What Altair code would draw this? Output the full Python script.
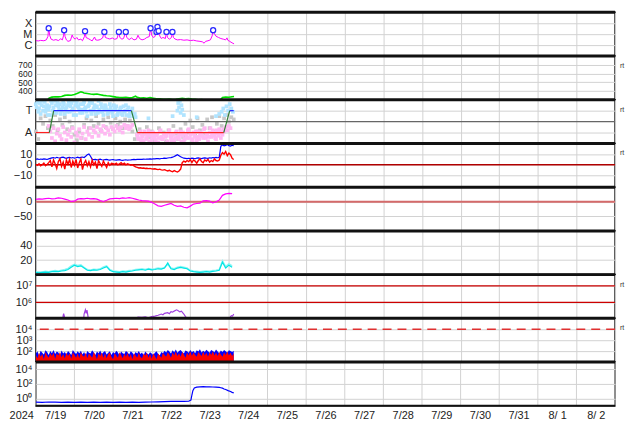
import json
import altair as alt
import pandas as pd

W, H = 583, 44
DAY_TICKS = list(range(0, 361, 24))
LABEL_TICKS = list(range(12, 360, 24))
DATE_LABELS = ["7/19", "7/20", "7/21", "7/22", "7/23", "7/24", "7/25", "7/26",
               "7/27", "7/28", "7/29", "7/30", "7/31", "8/ 1", "8/ 2"]
YEAR = "2024"
SIDE_TEXT = "rt"

# ---- panel 1 : X-ray flux (hours since 7/19 00:00) ----
XRAY_H = [0, 1.5, 3, 5, 6.5, 7.5, 8.0, 8.6, 9.5, 11, 12.5, 14, 15.5, 16.5, 17.2, 17.6, 18.2, 19, 20, 21.5,
          22.6, 23.2, 24.5, 25.5, 26.5, 28, 29, 30.2, 30.6, 31.2, 32.5, 34, 35, 36.5, 37.2, 38.5, 40, 41.5,
          42.6, 43.2, 44.5, 46, 47.5, 49, 50.5, 51.6, 52.2, 53.5, 54.5, 55.9, 56.5, 58, 59.5, 61, 62.5,
          63.5, 64.5, 66, 67.5, 69, 70.5, 71.3, 72, 73, 74, 75.0, 75.6, 76.3, 77, 78, 79, 80.5, 81.2, 81.8,
          83, 84.3, 84.9, 85.5, 86.5, 88, 90, 92, 94, 96, 98, 100, 102, 103.5, 104.6, 105.5, 107, 108.5,
          109.6, 110.2, 111, 112, 113.5, 115, 116.5, 118, 118.8, 119.3, 120.5, 122, 123.2]
XRAY_F = [2.6e-6, 2.4e-6, 2.7e-6, 2.5e-6, 3.0e-6, 6e-6, 3.5e-5, 8e-6, 3.5e-6, 2.8e-6, 3.2e-6, 2.6e-6, 3.8e-6,
          3e-6, 7e-6, 2.3e-5, 6e-6, 3e-6, 2.2e-6, 2.6e-6, 8.5e-6, 5e-6, 3.5e-6, 5e-6, 3e-6, 3.5e-6, 2.5e-6,
          6e-6, 1.9e-5, 5e-6, 4e-6, 3e-6, 2.4e-6, 5.5e-6, 3e-6, 2.8e-6, 3.2e-6, 4.5e-6, 1.6e-5, 5e-6,
          4.2e-6, 3.6e-6, 4.5e-6, 3.4e-6, 4e-6, 1.6e-5, 5e-6, 3.5e-6, 4e-6, 1.6e-5, 5e-6, 3.2e-6, 4.5e-6,
          3e-6, 3.5e-6, 8e-6, 4e-6, 3e-6, 3.5e-6, 5e-6, 6e-6, 3.5e-5, 8e-6, 5e-6, 6e-6, 1.6e-5, 4.7e-5,
          2.0e-5, 7e-6, 4e-6, 5e-6, 4e-6, 1.6e-5, 5e-6, 3.5e-6, 5e-6, 1.6e-5, 5e-6, 3.6e-6, 3e-6, 3.2e-6,
          2.8e-6, 3e-6, 2.6e-6, 2.8e-6, 2.4e-6, 2.2e-6, 2.0e-6, 1.5e-6, 2.2e-6, 2.5e-6, 3e-6, 7e-6, 2.3e-5,
          1.1e-5, 6.5e-6, 5e-6, 4e-6, 3.5e-6, 3e-6, 4.6e-6, 2.8e-6, 2.2e-6, 1.6e-6, 1.3e-6]
FLARE_H = [8.0, 17.6, 30.6, 42.6, 51.6, 55.9, 71.3, 75.0, 75.6, 76.3, 81.2, 84.9, 110.2]
FLARE_F = [3.5e-5, 2.3e-5, 1.9e-5, 1.6e-5, 1.6e-5, 1.6e-5, 3.5e-5, 1.6e-5, 4.7e-5, 2.0e-5, 1.6e-5, 1.6e-5, 2.3e-5]
XRAY_TICKS = [1e-4, 1e-5, 1e-6]
XRAY_LABELS = ["X", "M", "C"]

# ---- panel 2 : solar wind speed ----
SW_H = [7.5, 8.2, 10, 12, 14, 16, 18, 20, 22, 24, 26, 28, 29, 30, 32, 34, 36, 38, 40, 42, 44, 46, 48, 50,
        52, 54, 56, 58, 60, 62, 63, 65, 67, 69, 71, 73, 75, 77, 79, 81, 83, 85, 87, 89, 91, 93, 95, 97, 99,
        101, 103, 105, 107, 109, 111, 113, 115, 116, 118, 120, 122, 123.2]
SW_V = [300, 318, 330, 335, 333, 338, 350, 355, 352, 360, 375, 390, 385, 378, 372, 366, 362, 365, 358, 350,
        345, 342, 336, 330, 326, 324, 328, 322, 326, 340, 328, 320, 322, 318, 326, 318, 310, 312, 306, 304,
        308, 302, 305, 312, 316, 311, 313, 308, 304, 300, 302, 298, 300, 296, 298, 300, 302, 325, 332, 328,
        335, 338]
SW_TICKS = [400, 500, 600, 700]

# ---- panel 3 : IMF sector ----
SEC_H = [0, 8.4, 11.1, 59.4, 63.1, 116.8, 120.5, 123]
SEC_V = [-1, -1, 1, 1, -1, -1, 1, 1]
TOWARD_V1 = [1.6, 1.8, 1.2, 0.7, 1.9, 1.4, 0.9, 1.5, 1.1, 0.6, 1.7, 1.3, 1.9, 0.8, 1.4, 1.6, 1.0, 1.8, 0.7,
             1.3, 1.5, 0.9, 1.7, 1.2, 1.9, 0.6, 1.4, 1.1, 1.6, 0.8, 1.8, 1.3, 0.5, 1.5, 1.0, 1.7, 1.2, 0.7,
             1.4, 1.9, 0.9, 1.3, 0.6, 1.5, 1.1, 0.8, 1.6, 1.0, 0.5, 1.2, 1.4, 0.7, 1.0, 1.3, 0.6, 0.9, 1.5,
             1.1, 0.5, 0.8, 1.2, 0.6, 0.4]
TOWARD_V2 = [1.3, 0.9, 1.7, 1.5, 1.0, 1.8, 1.2, 0.6, 1.4, 1.9, 1.0, 0.8, 1.5, 1.7, 1.1, 0.7, 1.3, 1.6, 1.2,
             0.9, 1.8, 1.4, 1.0, 0.6, 1.5, 1.7, 1.3, 0.8, 1.1, 1.6, 1.2, 0.9, 1.4, 1.8, 0.7, 1.0, 1.5, 1.3,
             0.8, 1.1, 1.6, 0.9, 1.2, 1.4, 0.7, 1.0, 1.3, 0.8, 1.5, 1.1, 0.6, 0.9, 1.2, 0.7, 1.4, 1.0, 0.6,
             1.3, 0.8, 1.0, 0.5, 0.7]
TOWARD_LATE_H = [70, 85, 88, 88.5, 89, 89.5, 90, 90.5, 91, 92, 100, 112, 114, 115.5, 116.5, 117.5, 118.5,
                 119.5, 120.5, 121.5, 122.5]
TOWARD_LATE_V = [0.3, 0.5, 1.0, 1.7, 1.3, 1.9, 0.8, 1.5, 1.1, 0.6, 0.4, 0.5, 0.7, 0.9, 1.2, 0.6, 1.4, 1.0,
                 1.6, 1.2, 0.9]
AWAY_V1 = [-0.4, -0.9, -1.5, -0.6, -1.8, -1.1, -0.7, -1.3, -1.6, -0.5, -1.0, -1.7, -1.2, -0.8, -1.4, -0.6,
           -1.9, -1.0, -1.3, -0.7, -1.5, -1.1, -0.5, -1.6, -0.9, -1.2, -0.6, -1.4, -0.8, -1.0, -0.5, -1.3,
           -0.7, -0.9, -0.4, -1.1, -0.6, -0.8, -1.2, -0.5, -0.7, -0.9, -0.4, -0.6, -0.8, -0.5, -1.0, -0.3,
           -0.6, -0.4, -0.7, -0.5, -0.3]
AWAY_V2 = [-1.2, -1.6, -0.9, -1.4, -1.8, -1.1, -1.5, -0.8, -1.3, -1.7, -1.0, -1.5, -1.2, -1.9, -0.9, -1.4,
           -1.6, -1.1, -1.3, -1.8, -0.8, -1.5, -1.2, -1.7, -1.0, -1.4, -1.6, -0.9, -1.3, -1.8, -1.1, -1.5,
           -0.7, -1.2, -1.6, -1.0, -1.4, -1.7, -0.9, -1.3, -1.1, -1.5, -0.6, -1.2, -1.8, -1.0, -1.4, -0.8,
           -1.3, -1.6, -1.1, -0.7, -1.5, -1.2, -0.9]
AWAY_V3 = [-1.5, -1.1, -1.7, -1.3, -0.9, -1.6, -1.2, -1.8, -1.0, -1.4, -1.3, -1.7, -1.1, -1.5, -0.8, -1.6,
           -1.2, -1.4, -1.9, -1.0, -1.3, -1.7, -1.1, -1.5, -0.9, -1.4, -1.2, -1.8, -1.0, -1.6, -1.3, -0.8,
           -1.5, -1.1, -1.7, -1.2, -0.9, -1.4, -1.6, -1.0, -1.3, -0.7, -1.5, -1.1, -1.4, -0.6, -1.2, -1.0,
           -1.5, -0.8, -1.3, -0.9, -1.1, -0.7]
AWAY_LATE_H = [118, 119, 120, 121]
AWAY_LATE_V = [-0.5, -0.8, -0.4, -0.6]
GRAY_V = [-0.9, -1.6, 0.3, -0.2, 0.5, -0.6, 0.1, -0.4, 0.6, -0.8, 0.2, -0.3, 0.4, -0.7, 0.0, -0.5, -1.2,
          -1.7, -0.9, -1.5, -0.3, 0.3, -0.6, 0.1, -0.4, 0.5, -0.2, -0.8, 0.2, -0.5, 0.4, -0.1, -0.7, 0.3,
          -0.3, 0.0, -0.6, 0.2, -0.4, 0.1, -0.9, -1.6, -1.2, -0.7, -1.8, -1.1, -0.5, -1.4, -0.9, -1.7, -1.2,
          -0.6, -1.5, -1.0, -1.8, -0.8, -1.3, -0.4, -1.1, -1.6, -0.7, -1.4, -0.2, -1.0, 0.1, -0.5, -1.3, 0.3,
          -0.8, -0.3, -1.1, 0.2, -0.6, 0.4, -0.9, -0.2, 0.5, -0.4, 0.3, 0.6, 0.0, 0.4, 0.2]
SEC_TICKS = [1, -1]
SEC_LABELS = ["T", "A"]

# ---- panel 4 : IMF Bt / Bz (hourly) ----
BT = [5.2, 5.5, 5.0, 5.4, 5.1, 5.6, 5.3, 5.0, 5.5,
      6.0, 6.5, 6.8, 6.2, 7.0, 6.6, 6.3, 6.9, 7.2, 6.5, 6.1, 6.7, 7.0, 6.4, 6.8, 6.2, 6.6, 7.1, 6.5, 6.9, 7.3, 6.8,
      8.0, 9.5, 10.2, 8.0,
      5.2, 4.8, 5.0, 4.6, 4.9, 5.3, 4.7, 4.5, 4.8, 5.1, 4.6, 4.4, 4.7, 4.9, 4.5, 4.3, 4.6, 4.8, 4.4, 4.2, 4.5,
      4.7, 4.3, 4.5,
      4.6, 4.8, 5.0, 4.9, 5.1, 5.0, 5.2, 5.1, 5.3, 5.2, 5.4, 5.3, 5.5, 5.4, 5.6, 5.5, 5.7, 5.8, 5.6, 5.9, 6.0,
      6.2, 6.1, 6.4, 6.6, 6.8, 7.2, 7.8, 8.6, 9.4,
      8.5, 7.5, 6.8, 6.2, 6.0, 5.8, 6.1, 5.9, 6.3, 6.0, 5.7, 6.2, 6.4, 6.1, 5.8, 6.3, 6.5, 6.2, 6.0, 6.6, 6.3,
      6.8, 6.5, 7.0, 6.6, 6.9,
      17.5, 18.5, 17.8, 18.2, 19.0, 18.0, 17.6, 18.3, 17.9]
BZ = [0.5, -0.5, 1.0, -1.0, 0.0, 1.5, -0.8, 0.3, 2.0,
      4.0, -2.0, 4.5, 1.0, -3.5, 3.0, 5.5, -1.5, 2.5, -4.0, 4.5, 0.5, 5.0, -2.5, 3.5, -0.5, 5.0, -3.0, 2.0, 5.5,
      -4.5, 1.5, 4.0, -1.0, 3.0, -2.0, 4.5, 0.0, 2.5, -3.5, 4.0, 1.0, -1.5, 3.5, 0.5, -2.5, 2.0, -0.5, 1.5,
      1.0, 0.5, 1.5, 0.0, 1.0, 2.0, 0.5, 1.5, 0.0, 1.0, 0.5, -0.5, 0.0, -1.0, -2.0,
      -2.5, -3.0, -2.8, -3.2, -3.0, -3.5, -3.3, -3.6, -3.4, -3.8, -4.0, -3.7, -4.2, -4.5, -4.1, -4.8, -5.0,
      -4.6, -5.3, -5.8, -5.2, -6.0, -6.5, -5.5, -6.2, -6.8, -5.8,
      -4.0, 2.0, 3.5, 2.5, 4.0, 3.0, 5.0, 2.0, 4.5, 3.5, 1.5, 4.0, 5.5, 3.0, 2.0, 4.5, 3.5, 5.0, 2.5, 4.0, 3.0,
      5.5, 4.0, 3.5, 4.5,
      9.0, 11.5, 10.0, 12.5, 8.5, 11.0, 9.5, 6.0, 5.0]
IMF_TICKS = [10, 0, -10]

# ---- panel 5 : Dst (every 2 h) ----
DST = [8, 10, 9, 11, 12, 10, 11, 13, 12, 9, 6, 1, 2, 9, 11, 10, 12, 10, 11, 9, 4, 1, 5, 10, 11, 12, 11, 13,
       12, 14, 12, 9, 6, 4, 3, 2, -2, -8, -14, -16, -12, -9, -6, -12, -16, -14, -19, -21, -15, -8, -6, -5,
       3, 4, 2, -4, 0, 6, 22, 27, 29, 28]
DST_TICKS = [0, -50]

# ---- panel 6 : density (every 2 h) ----
DEN_A = [3, 2.5, 3, 3.5, 3, 4, 4.5, 4, 5, 5.5, 7, 10, 13, 11, 12, 9, 6, 5.5, 6.5, 6, 7, 9, 11, 6, 4, 3.5, 3,
         4, 3.5, 4.5, 5, 6, 6.5, 7, 6, 7.5, 6.5, 7, 8, 7.5, 9, 16, 8, 7, 9, 10, 9, 8, 5, 4, 3.5, 3, 3.5, 4,
         3.5, 4.5, 5, 6, 17, 9, 13, 10]
DEN_B = [4, 3.5, 3.5, 4.5, 4, 5, 5.5, 5, 6, 7, 8.5, 12, 14, 12.5, 13.5, 10, 7, 6.5, 7.5, 7, 8, 10.5, 12, 7, 5,
         4.5, 4, 5, 4.5, 5.5, 6, 7, 7.5, 8, 7, 8.5, 7.5, 8, 9, 8.5, 10, 14, 9, 8, 10, 11, 10, 9, 6, 5, 4.5, 4,
         4.5, 5, 4.5, 5.5, 6, 7, 19, 11, 15, 12]
DEN_TICKS = [40, 20]

# ---- panel 7 : proton flux ----
PRO_H = [0, 16.5, 17.0, 17.3, 17.7, 18.2, 29.5, 30.0, 30.8, 31.3, 31.8, 32.4, 33, 63.0, 63.5, 66, 68, 70, 72,
         74, 76, 78, 79, 80, 82, 83, 84, 85, 86, 87.5, 88.5, 89.5, 90.5, 92, 93, 94.5, 95, 120, 120.8, 121.5,
         122.3, 123]
PRO_V = [5e4, 5e4, 1.6e5, 2.1e5, 1.5e5, 5e4, 5e4, 2.0e5, 3.6e5, 2.2e5, 3.4e5, 1.5e5, 5e4, 5e4, 1.3e5, 1.25e5,
         1.35e5, 1.2e5, 1.4e5, 1.5e5, 1.7e5, 2.0e5, 1.8e5, 2.2e5, 2.4e5, 2.1e5, 2.8e5, 2.6e5, 3.0e5, 3.6e5,
         3.2e5, 2.7e5, 3.0e5, 2.0e5, 1.4e5, 1.0e5, 5e4, 5e4, 1.3e5, 1.6e5, 1.5e5, 2.0e5]
PRO_TICKS = [1e7, 1e6]
PRO_LABELS = ["10\u2077", "10\u2076"]
PRO_LIMITS = [1e7, 1e6]

# ---- panel 8 : electron counts (hourly) ----
EL_BLUE = [60, 95, 40, 110, 70, 50, 120, 85, 45, 100, 65, 130, 55, 90, 75, 40, 115, 60, 85, 50, 105, 70, 45,
           125, 80, 55, 95, 65, 110, 50, 85, 40, 100, 70, 60, 120, 75, 45, 90, 65, 115, 55, 80, 100, 50, 70,
           95, 45, 85, 60, 110, 75, 40, 90, 65, 55, 105, 80, 50, 95, 70, 45, 85, 60, 100, 55, 75, 40, 90, 65,
           50, 80, 60, 45, 70, 95, 55, 40, 85, 65, 110, 75, 130, 90, 60, 120, 80, 140, 70, 100, 125, 85, 60,
           115, 95, 70, 130, 80, 105, 65, 120, 90, 150, 75, 110, 85, 135, 95, 70, 125, 100, 80, 140, 90, 65,
           115, 85, 130, 95, 70, 120, 100, 85, 110]
EL_RED = [45, 22, 70, 30, 55, 18, 80, 40, 25, 65, 35, 75, 20, 60, 40, 85, 28, 55, 22, 70, 35, 60, 20, 75, 45,
          25, 65, 22, 80, 40, 30, 70, 22, 60, 40, 25, 85, 45, 18, 65, 35, 75, 25, 60, 22, 55, 70, 30, 18, 65,
          40, 25, 80, 45, 22, 60, 30, 70, 25, 55, 18, 65, 40, 25, 75, 30, 22, 60, 40, 70, 25, 55, 20, 65, 35,
          18, 60, 40, 25, 70, 45, 30, 80, 50, 25, 75, 40, 90, 35, 65, 30, 85, 50, 25, 70, 40, 95, 35, 75, 45,
          30, 85, 55, 35, 90, 40, 70, 30, 80, 45, 95, 40, 70, 35, 85, 50, 30, 75, 45, 90, 40, 70, 35, 65]
EL_TICKS = [1e4, 1e3, 1e2]
EL_LABELS = ["10\u2074", "10\u00b3", "10\u00b2"]
EL_LIMIT = [1e4]
EL_FLOOR = 10

# ---- panel 9 : high-energy flux ----
P9_H = [0, 4, 8, 12, 16, 20, 24, 28, 32, 36, 40, 44, 48, 52, 56, 60, 64, 68, 72, 76, 80, 84, 88, 92, 95,
        96.4, 97, 97.6, 98.5, 100, 102, 104, 106, 108, 110, 112, 114, 115, 116, 117, 118, 119.5, 121, 122, 123]
P9_V = [0.32, 0.30, 0.33, 0.31, 0.29, 0.32, 0.30, 0.31, 0.30, 0.32, 0.29, 0.31, 0.30, 0.32, 0.30, 0.31, 0.30,
        0.32, 0.33, 0.35, 0.38, 0.40, 0.42, 0.40, 0.42, 0.6, 3, 12, 28, 36, 40, 42, 40, 41, 38, 36, 33, 30,
        26, 20, 17, 12, 9, 7, 6]
P9_TICKS = [1e4, 1e2, 1e0]
P9_LABELS = ["10\u2074", "10\u00b2", "10\u2070"]

FONT = "Liberation Sans"
GRID = "#d2d2d2"


def label_expr(values, labels):
    s = ""
    for v, l in zip(values, labels):
        s += "datum.value == %r ? %s : " % (v, json.dumps(l))
    return s + "''"


def X(bottom=False):
    if bottom:
        ax = alt.Axis(values=LABEL_TICKS, grid=False, ticks=False, domain=False, title=None,
                      labelExpr=json.dumps(DATE_LABELS) + "[floor(datum.value / 24)]",
                      labelAlign="center", labelFlush=False, labelOverlap=False,
                      labelPadding=4, labelFontSize=11)
    else:
        ax = alt.Axis(values=DAY_TICKS, grid=True, ticks=False, domain=False, labels=False, title=None)
    return alt.X("h:Q", scale=alt.Scale(domain=[0, 360], nice=False, zero=False), axis=ax)


def Y(domain, values, labels=None, log=False, fs=11):
    if labels is None:
        labels = [str(v) if v >= 0 else "\u2212" + str(-v) for v in values]
    sc = alt.Scale(type="log", domain=domain, nice=False) if log else alt.Scale(domain=domain, nice=False, zero=False)
    return alt.Y("v:Q", scale=sc,
                 axis=alt.Axis(values=values, labelExpr=label_expr(values, labels), grid=True, ticks=False,
                               domain=False, title=None, labelPadding=4, labelOverlap=False,
                               labelBound=False, labelFlush=False, labelFontSize=fs))


def df(h, v):
    return pd.DataFrame({"h": list(h), "v": list(v)})


def frame(layers, rt=False, bottom=False):
    extra = [alt.Chart().mark_rule(color="#111", strokeWidth=3).encode(
        x=alt.value(0), x2=alt.value(W), y=alt.value(0))]
    if rt:
        extra.append(alt.Chart().mark_text(text=SIDE_TEXT, fontSize=7, color="#333", align="left",
                                           baseline="middle", font=FONT).encode(x=alt.value(W + 5), y=alt.value(10)))
    if bottom:
        extra.append(alt.Chart().mark_rule(color="#111", strokeWidth=2).encode(
            x=alt.value(0), x2=alt.value(W), y=alt.value(H)))
        extra.append(alt.Chart().mark_text(text=YEAR, fontSize=11, color="#222", align="right",
                                           baseline="top", font=FONT).encode(x=alt.value(-2), y=alt.value(H + 4)))
    return alt.layer(*layers, *extra).properties(width=W, height=H)


# panel 1
y1 = Y([1e-7, 1e-3], XRAY_TICKS, XRAY_LABELS, log=True)
p1 = frame([
    alt.Chart(df(XRAY_H, XRAY_F)).mark_line(color="#ff00ff", strokeWidth=1, clip=True).encode(x=X(), y=y1),
    alt.Chart(df(FLARE_H, FLARE_F)).mark_point(shape="circle", filled=True, fill="white", stroke="#2a2aff",
                                               strokeWidth=1.3, size=26, opacity=1).encode(x=X(), y=y1),
])

# panel 2
y2 = Y([300, 800], SW_TICKS, fs=8.5)
p2 = frame([
    alt.Chart(df(SW_H, SW_V)).mark_line(color="#00dd00", strokeWidth=1.6, clip=True).encode(x=X(), y=y2),
], rt=True)

# panel 3
y3 = Y([-2, 2], SEC_TICKS, SEC_LABELS)
seg_rows = []
for i in range(len(SEC_H) - 1):
    a, b = SEC_V[i], SEC_V[i + 1]
    c = "#ff2020" if (a < 0 and b < 0) else ("#2020ff" if (a > 0 and b > 0) else "#2e7d32")
    seg_rows.append({"h": SEC_H[i], "v": a, "seg": i, "c": c})
    seg_rows.append({"h": SEC_H[i + 1], "v": b, "seg": i, "c": c})
seg_df = pd.DataFrame(seg_rows)
toward = pd.concat([df(range(len(TOWARD_V1)), TOWARD_V1),
                    df([i + 0.5 for i in range(len(TOWARD_V2))], TOWARD_V2),
                    df(TOWARD_LATE_H, TOWARD_LATE_V)])
away = pd.concat([df([8 + i for i in range(len(AWAY_V1))], AWAY_V1),
                  df([63 + i for i in range(len(AWAY_V2))], AWAY_V2),
                  df([63.5 + i for i in range(len(AWAY_V3))], AWAY_V3),
                  df(AWAY_LATE_H, AWAY_LATE_V)])
gray = df([1.5 * i for i in range(len(GRAY_V))], GRAY_V)
p3 = frame([
    alt.Chart(gray).mark_square(color="#c8c8c8", size=14, opacity=1).encode(x=X(), y=y3),
    alt.Chart(away).mark_square(color="#ffb8f2", size=14, opacity=1).encode(x=X(), y=y3),
    alt.Chart(toward).mark_square(color="#b0e4ff", size=14, opacity=1).encode(x=X(), y=y3),
    alt.Chart(df([0], [0])).mark_rule(color="#666", strokeWidth=1.2).encode(y=y3),
    alt.Chart(seg_df).mark_line(strokeWidth=1.2).encode(x=X(), y=y3, detail="seg:N",
                                                         color=alt.Color("c:N", scale=None)),
], rt=True)

# panel 4
y4 = Y([-21, 20], IMF_TICKS)
p4 = frame([
    alt.Chart(df([0], [0])).mark_rule(color="#b00000", strokeWidth=1.5).encode(y=y4),
    alt.Chart(df(range(len(BT)), BT)).mark_line(color="#0000ff", strokeWidth=1.2, clip=True).encode(x=X(), y=y4),
    alt.Chart(df(range(len(BZ)), BZ)).mark_line(color="#ff0000", strokeWidth=1.4, clip=True).encode(x=X(), y=y4),
], rt=True)

# panel 5
y5 = Y([-100, 50], DST_TICKS)
p5 = frame([
    alt.Chart(df([0], [0])).mark_rule(color="#d46a6a", strokeWidth=2).encode(y=y5),
    alt.Chart(df([2 * i for i in range(len(DST))], DST)).mark_line(color="#ff00ff", strokeWidth=1.2,
                                                                   clip=True).encode(x=X(), y=y5),
])

# panel 6
y6 = Y([0, 60], DEN_TICKS)
p6 = frame([
    alt.Chart(df([2 * i for i in range(len(DEN_B))], DEN_B)).mark_line(color="#8ff5f5", strokeWidth=1.5,
                                                                       clip=True).encode(x=X(), y=y6),
    alt.Chart(df([2 * i for i in range(len(DEN_A))], DEN_A)).mark_line(color="#00e5e5", strokeWidth=1.2,
                                                                       clip=True).encode(x=X(), y=y6),
])

# panel 7
y7 = Y([1.1e5, 4.8e7], PRO_TICKS, PRO_LABELS, log=True)
p7 = frame([
    alt.Chart(df([0] * len(PRO_LIMITS), PRO_LIMITS)).mark_rule(color="#cc0000", strokeWidth=1.2).encode(y=y7),
    alt.Chart(df(PRO_H, PRO_V)).mark_line(color="#a040e0", strokeWidth=1.2, clip=True).encode(x=X(), y=y7),
], rt=True)

# panel 8
y8 = Y([10, 1e5], EL_TICKS, EL_LABELS, log=True)
p8 = frame([
    alt.Chart(df([0], EL_LIMIT)).mark_rule(color="#e03030", strokeWidth=1.5, strokeDash=[9, 6]).encode(y=y8),
    alt.Chart(df(range(len(EL_BLUE)), EL_BLUE)).mark_area(color="#0000ff", opacity=1, clip=True).encode(
        x=X(), y=y8, y2=alt.datum(EL_FLOOR)),
    alt.Chart(df(range(len(EL_RED)), EL_RED)).mark_area(color="#ff0000", opacity=1, clip=True).encode(
        x=X(), y=y8, y2=alt.datum(EL_FLOOR)),
], rt=True)

# panel 9 (day gridlines drawn as rules because the axis carries the noon labels)
y9 = Y([0.1, 1e5], P9_TICKS, P9_LABELS, log=True)
xb = X(bottom=True)
p9 = frame([
    alt.Chart(pd.DataFrame({"h": DAY_TICKS})).mark_rule(color=GRID, strokeWidth=1).encode(x=xb),
    alt.Chart(df(P9_H, P9_V)).mark_line(color="#0000ff", strokeWidth=1.2, clip=True).encode(x=xb, y=y9),
], bottom=True)

chart = alt.vconcat(p1, p2, p3, p4, p5, p6, p7, p8, p9, spacing=0, bounds="flush").properties(
    padding={"left": 0, "top": 0, "right": 0, "bottom": 0}, background="white"
).configure_axis(
    labelFont=FONT, labelFontSize=11, labelColor="#222", gridColor=GRID, gridWidth=1
).configure_view(stroke="#111", strokeWidth=1.5)

chart.save("out.html", embed_options={"renderer": "svg", "actions": False})
